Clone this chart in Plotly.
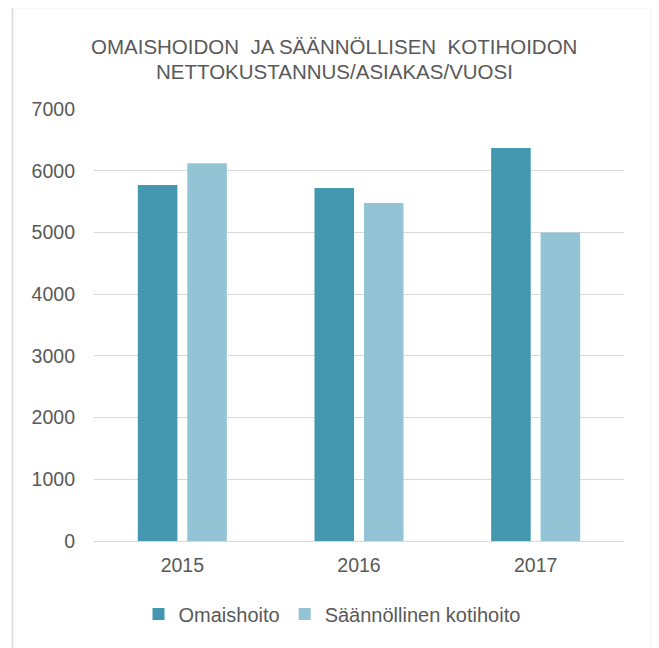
import plotly.graph_objects as go

years = ["2015", "2016", "2017"]
omaishoito = [5770, 5720, 6370]
kotihoito = [6120, 5475, 5000]
series_names = ["Omaishoito", "Säännöllinen kotihoito"]
colors = ["#4398B0", "#93C4D6"]
title_lines = ["OMAISHOIDON\u00a0\u00a0JA SÄÄNNÖLLISEN\u00a0\u00a0KOTIHOIDON",
               "NETTOKUSTANNUS/ASIAKAS/VUOSI"]
y_ticks = [0, 1000, 2000, 3000, 4000, 5000, 6000, 7000]

# page has an 8px body margin; target window coordinates below
OFF = 8
W, H = 659 - OFF, 648 - OFF
PL, PR, PT, PB = 94, 624, 109, 541  # plot area in window coords
L, T = PL - OFF, PT - OFF
R = W - (PR - OFF)
B = H - (PB - OFF)
pw, ph = PR - PL, PB - PT

def px(x):
    return (x - PL) / pw

def py(y):
    return (PB - y) / ph

FONT = "Liberation Sans, Arial, sans-serif"
GREY = "#595959"

fig = go.Figure()
fig.add_trace(go.Bar(x=years, y=omaishoito, name=series_names[0],
                     marker=dict(color=colors[0], line=dict(width=0))))
fig.add_trace(go.Bar(x=years, y=kotihoito, name=series_names[1],
                     marker=dict(color=colors[1], line=dict(width=0))))

fig.update_layout(
    width=W, height=H,
    margin=dict(l=L, r=R, t=T, b=B, pad=0),
    paper_bgcolor="white", plot_bgcolor="white",
    barmode="group", bargap=0.44, bargroupgap=0.2,
    font=dict(family=FONT, color=GREY, size=19),
    showlegend=True,
    legend=dict(orientation="h", x=px(332), xanchor="center", y=py(614), yanchor="middle",
                font=dict(size=20, color=GREY), itemwidth=30, traceorder="normal"),
    xaxis=dict(showgrid=False, showline=False, ticks="", ticklabelstandoff=10,
               tickfont=dict(size=19.5, color=GREY)),
    yaxis=dict(range=[0, 7000], tickvals=y_ticks, showgrid=True, gridcolor="#d9d9d9",
               gridwidth=1, zeroline=True, zerolinecolor="#d9d9d9", zerolinewidth=1,
               showline=False, ticks="", ticklabelstandoff=18,
               tickfont=dict(size=19.5, color=GREY)),
    shapes=[dict(type="rect", xref="paper", yref="paper",
                 x0=px(12.5), x1=px(651.5), y0=py(665), y1=py(7.5),
                 line=dict(color="#d9d9d9", width=1.5), fillcolor="rgba(0,0,0,0)", layer="below")],
    annotations=[
        dict(text=title_lines[0], xref="paper", yref="paper", x=px(334), y=py(46.5),
             xanchor="center", yanchor="middle", showarrow=False,
             font=dict(size=20.5, color=GREY, family=FONT)),
        dict(text=title_lines[1], xref="paper", yref="paper", x=px(334), y=py(71.5),
             xanchor="center", yanchor="middle", showarrow=False,
             font=dict(size=20.5, color=GREY, family=FONT)),
    ],
)

fig.write_html("out.html")
